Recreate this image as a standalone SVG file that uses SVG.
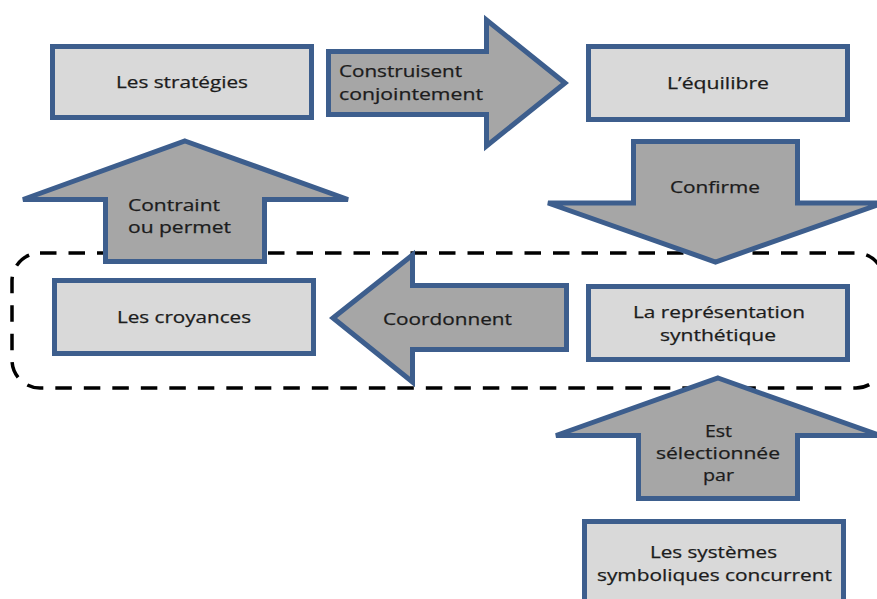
<svg xmlns="http://www.w3.org/2000/svg" width="877" height="599" viewBox="0 0 877 599">
<style>
.box{fill:#d9d9d9;stroke:#3d5e8d;stroke-width:5}
.arr{fill:#a6a6a6;stroke:#3d5e8d;stroke-width:5;stroke-linejoin:miter}
.dash{fill:none;stroke:#000;stroke-width:3.5;stroke-dasharray:16.5 12}
text{font-family:"Open Sans","Liberation Sans",sans-serif;font-size:16px;fill:#1c1c1c;stroke:#1c1c1c;stroke-width:0.25}
.c{text-anchor:middle}
</style>
<rect width="877" height="599" fill="#fff"/>
<rect id="group-frame" class="dash" x="12" y="253" width="872" height="135" rx="28"/>
<g id="connectors">
<g id="a-construisent"><path class="arr" d="M328.5,51.5 H486.5 V20 L565,83 L486.5,146 V114.5 H328.5 Z"/>
<text x="339" y="77" textLength="123" lengthAdjust="spacingAndGlyphs">Construisent</text><text x="339" y="100" textLength="144" lengthAdjust="spacingAndGlyphs">conjointement</text></g>
<g id="a-confirme"><path class="arr" d="M633.5,141.5 H797.5 V203 H883 L715.5,262 L548,203 H633.5 Z"/>
<text x="670" y="193" textLength="90" lengthAdjust="spacingAndGlyphs">Confirme</text></g>
<g id="a-contraint"><path class="arr" d="M185,141 L348,199.5 H264.5 V261.5 H105.5 V199.5 H23 Z"/>
<text x="128" y="211" textLength="92" lengthAdjust="spacingAndGlyphs">Contraint</text><text x="128" y="233" textLength="103" lengthAdjust="spacingAndGlyphs">ou permet</text></g>
<g id="a-coordonnent"><path class="arr" d="M333,318 L412.5,255 V285.5 H566.5 V349.5 H412.5 V382 Z"/>
<text x="383" y="325" textLength="129" lengthAdjust="spacingAndGlyphs">Coordonnent</text></g>
<g id="a-est"><path class="arr" d="M718,378 L880,435.5 H797.5 V498.5 H638.5 V435.5 H556 Z"/>
<text x="705" y="437" textLength="27" lengthAdjust="spacingAndGlyphs">Est</text><text x="656" y="459" textLength="124" lengthAdjust="spacingAndGlyphs">sélectionnée</text><text x="703" y="481" textLength="31" lengthAdjust="spacingAndGlyphs">par</text></g>
</g>
<g id="n-strategies"><rect class="box" x="52.5" y="46.5" width="259" height="71"/>
<text x="116" y="88" textLength="132" lengthAdjust="spacingAndGlyphs">Les stratégies</text></g>
<g id="n-equilibre"><rect class="box" x="588.5" y="46.5" width="259" height="73"/>
<text x="667" y="89" textLength="102" lengthAdjust="spacingAndGlyphs">L’équilibre</text></g>
<g id="n-croyances"><rect class="box" x="54.5" y="280.5" width="259" height="73"/>
<text x="117" y="323" textLength="134" lengthAdjust="spacingAndGlyphs">Les croyances</text></g>
<g id="n-representation"><rect class="box" x="588.5" y="286.5" width="259" height="73"/>
<text x="633" y="318" textLength="172" lengthAdjust="spacingAndGlyphs">La représentation</text><text x="660" y="341" textLength="116" lengthAdjust="spacingAndGlyphs">synthétique</text></g>
<g id="n-systemes"><rect class="box" x="584.5" y="521.5" width="259" height="90"/>
<text x="650" y="558" textLength="127" lengthAdjust="spacingAndGlyphs">Les systèmes</text><text x="597" y="581" textLength="235" lengthAdjust="spacingAndGlyphs">symboliques concurrent</text></g>
</svg>
